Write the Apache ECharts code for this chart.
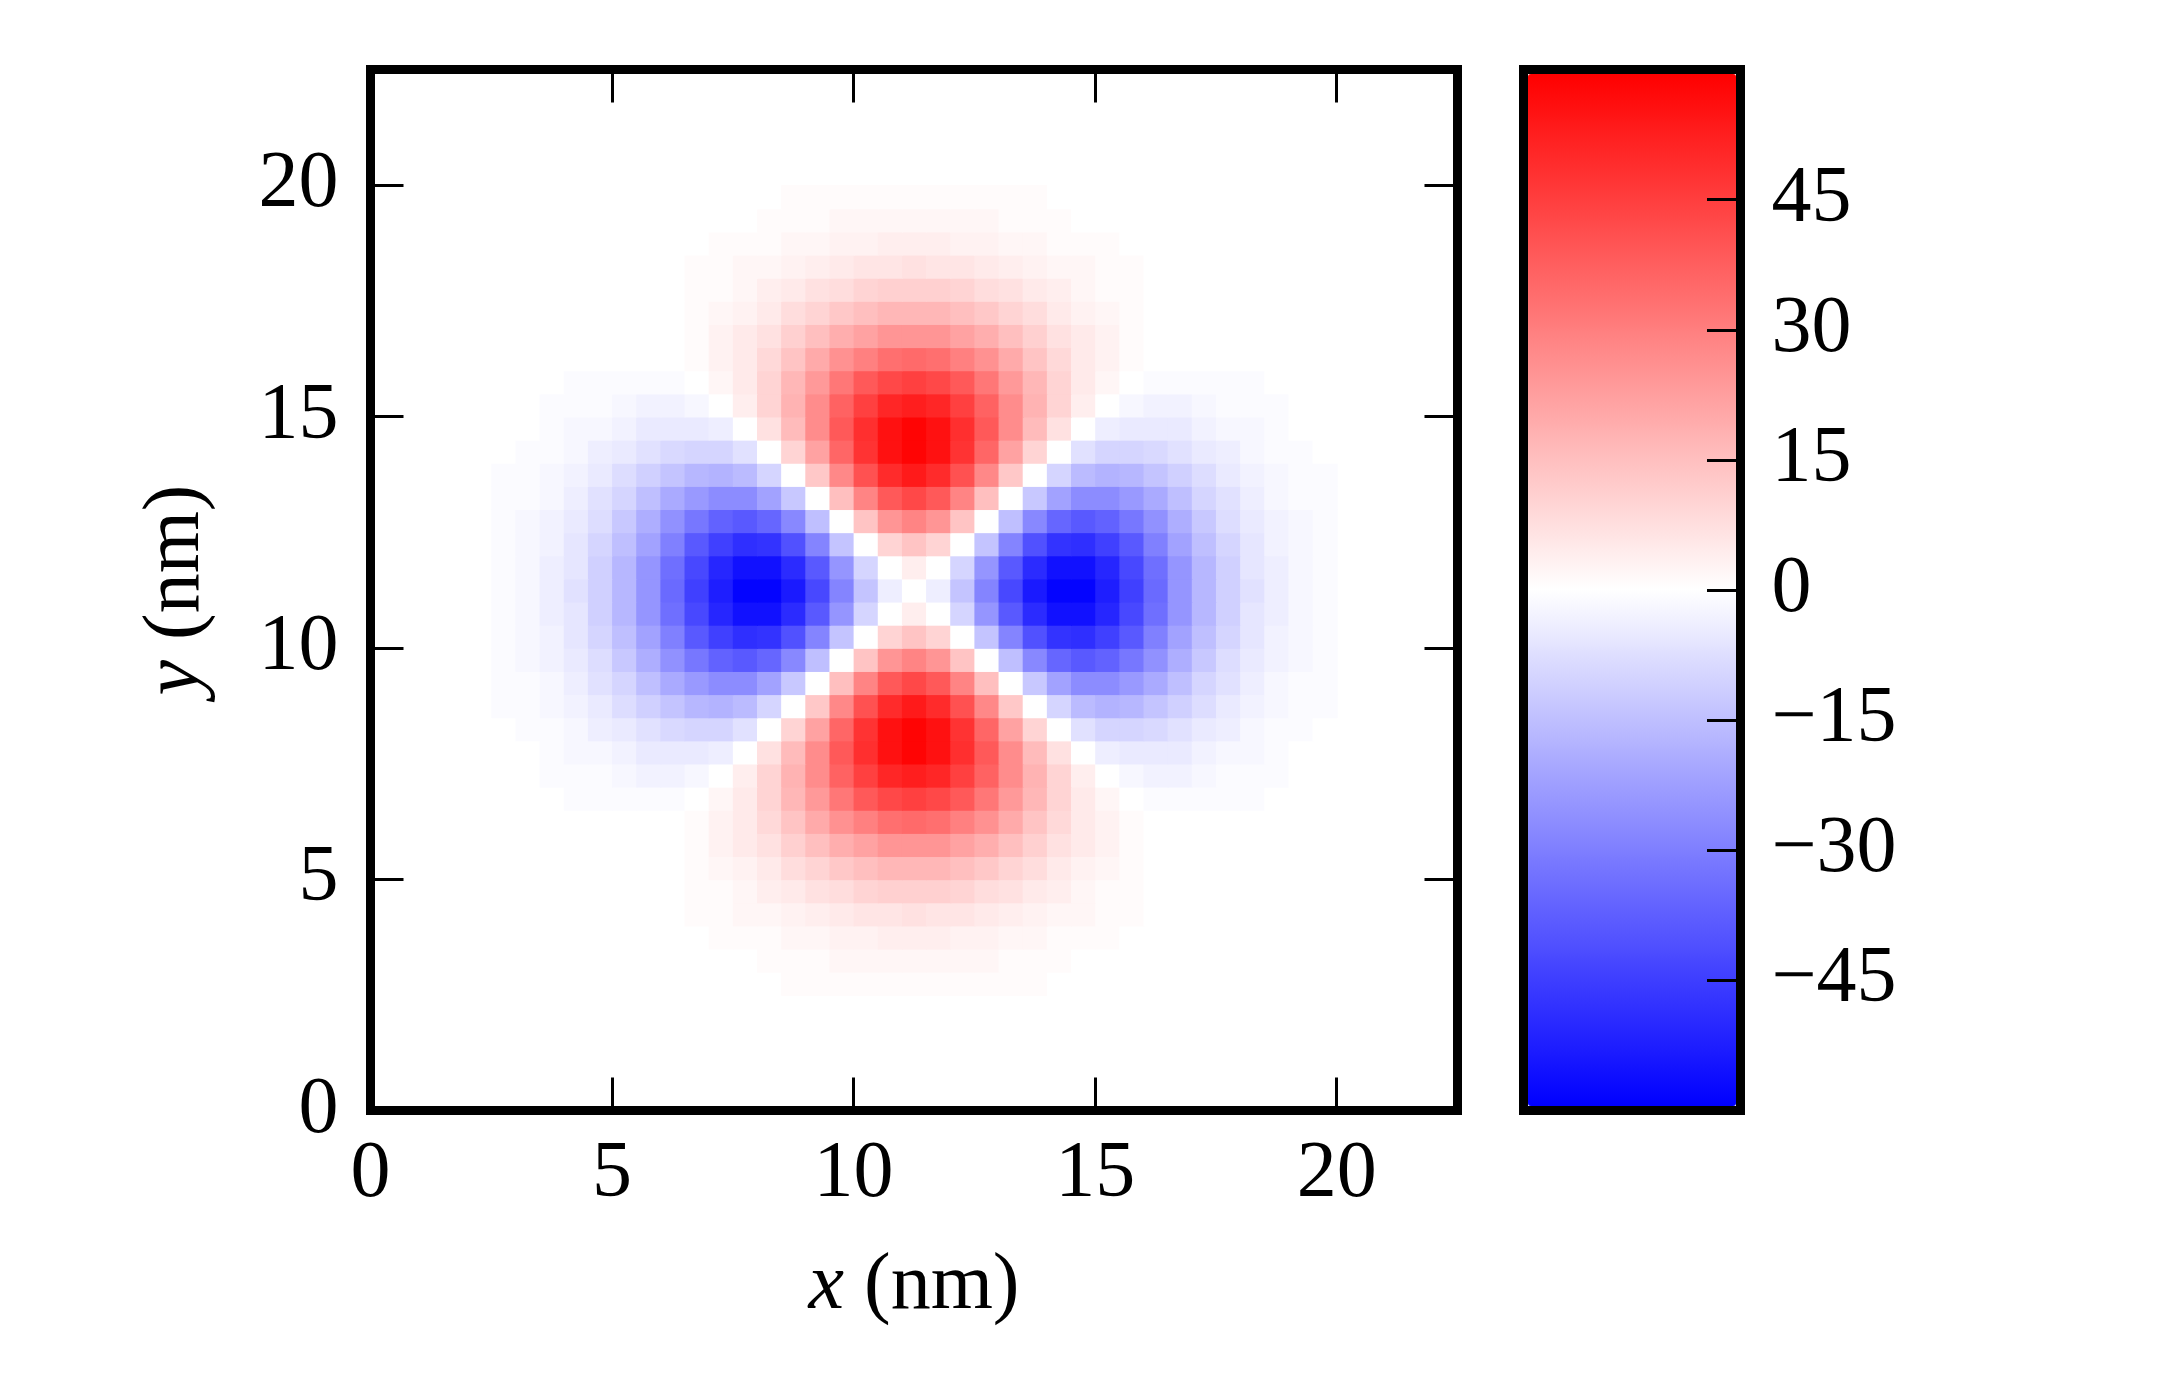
<!DOCTYPE html>
<html>
<head>
<meta charset="utf-8">
<script src="https://cdn.jsdelivr.net/npm/echarts@6/dist/echarts.min.js"></script>
<style>
html,body{margin:0;padding:0;background:#ffffff;}
#chart{width:2175px;height:1387px;}
</style>
</head>
<body>
<div id="chart"></div>
<script>
// ---------------- data ----------------
// cell centres in nm (0.5 nm cells); outside this block the field is ~0 (white)
const xCenters = [2.75,3.25,3.75,4.25,4.75,5.25,5.75,6.25,6.75,7.25,7.75,8.25,8.75,9.25,9.75,10.25,10.75,11.25,11.75,12.25,12.75,13.25,13.75,14.25,14.75,15.25,15.75,16.25,16.75,17.25,17.75,18.25,18.75,19.25,19.75];
const yCenters = [2.75,3.25,3.75,4.25,4.75,5.25,5.75,6.25,6.75,7.25,7.75,8.25,8.75,9.25,9.75,10.25,10.75,11.25,11.75,12.25,12.75,13.25,13.75,14.25,14.75,15.25,15.75,16.25,16.75,17.25,17.75,18.25,18.75,19.25,19.75];
// field values, one row per yCenters entry (bottom row first), one column per xCenters entry
const fieldRows = [
 [0,0,0,0,0,0,0,0,0,0,0,0,1,1,1,1,1,1,1,1,1,1,1,0,0,0,0,0,0,0,0,0,0,0,0],
 [0,0,0,0,0,0,0,0,0,0,0,1,1,1,2,2,2,2,2,2,2,1,1,1,0,0,0,0,0,0,0,0,0,0,0],
 [0,0,0,0,0,0,0,0,0,1,1,1,2,2,3,3,4,4,4,3,3,2,2,1,1,1,0,0,0,0,0,0,0,0,0],
 [0,0,0,0,0,0,0,0,1,1,2,2,3,4,5,6,6,7,6,6,5,4,3,2,2,1,1,0,0,0,0,0,0,0,0],
 [0,0,0,0,0,0,0,0,1,1,2,4,5,7,8,10,11,11,11,10,8,7,5,4,2,1,1,0,0,0,0,0,0,0,0],
 [0,0,0,0,0,0,0,0,1,2,3,5,8,10,13,15,17,17,17,15,13,10,8,5,3,2,1,0,0,0,0,0,0,0,0],
 [0,0,0,0,0,0,0,0,1,3,5,7,11,15,19,22,25,25,25,22,19,15,11,7,5,3,1,0,0,0,0,0,0,0,0],
 [0,0,0,0,0,0,0,0,1,3,5,9,14,20,26,30,34,35,34,30,26,20,14,9,5,3,1,0,0,0,0,0,0,0,0],
 [0,0,0,-1,-1,-1,-1,-1,0,2,5,10,17,24,32,39,43,45,43,39,32,24,17,10,5,2,0,-1,-1,-1,-1,-1,0,0,0],
 [0,0,-1,-1,-1,-2,-3,-3,-2,0,4,10,18,27,37,45,51,53,51,45,37,27,18,10,4,0,-2,-3,-3,-2,-1,-1,-1,0,0],
 [0,0,-1,-2,-2,-3,-5,-5,-5,-4,0,7,16,27,39,49,56,59,56,49,39,27,16,7,0,-4,-5,-5,-5,-3,-2,-2,-1,0,0],
 [0,-1,-1,-2,-4,-5,-7,-9,-10,-10,-7,0,10,22,36,48,56,59,56,48,36,22,10,0,-7,-10,-10,-9,-7,-5,-4,-2,-1,-1,0],
 [-1,-1,-2,-3,-5,-8,-11,-14,-17,-18,-16,-10,0,13,28,41,50,54,50,41,28,13,0,-10,-16,-18,-17,-14,-11,-8,-5,-3,-2,-1,-1],
 [-1,-1,-2,-4,-7,-10,-15,-20,-24,-27,-27,-22,-13,0,15,29,39,43,39,29,15,0,-13,-22,-27,-27,-24,-20,-15,-10,-7,-4,-2,-1,-1],
 [-1,-2,-3,-5,-8,-13,-19,-26,-32,-37,-39,-36,-28,-15,0,14,25,29,25,14,0,-15,-28,-36,-39,-37,-32,-26,-19,-13,-8,-5,-3,-2,-1],
 [-1,-2,-3,-6,-10,-15,-22,-30,-39,-45,-49,-48,-41,-29,-14,0,10,14,10,0,-14,-29,-41,-48,-49,-45,-39,-30,-22,-15,-10,-6,-3,-2,-1],
 [-1,-2,-4,-6,-11,-17,-25,-34,-43,-51,-56,-56,-50,-39,-25,-10,0,4,0,-10,-25,-39,-50,-56,-56,-51,-43,-34,-25,-17,-11,-6,-4,-2,-1],
 [-1,-2,-4,-7,-11,-17,-25,-35,-45,-53,-59,-59,-54,-43,-29,-14,-4,0,-4,-14,-29,-43,-54,-59,-59,-53,-45,-35,-25,-17,-11,-7,-4,-2,-1],
 [-1,-2,-4,-6,-11,-17,-25,-34,-43,-51,-56,-56,-50,-39,-25,-10,0,4,0,-10,-25,-39,-50,-56,-56,-51,-43,-34,-25,-17,-11,-6,-4,-2,-1],
 [-1,-2,-3,-6,-10,-15,-22,-30,-39,-45,-49,-48,-41,-29,-14,0,10,14,10,0,-14,-29,-41,-48,-49,-45,-39,-30,-22,-15,-10,-6,-3,-2,-1],
 [-1,-2,-3,-5,-8,-13,-19,-26,-32,-37,-39,-36,-28,-15,0,14,25,29,25,14,0,-15,-28,-36,-39,-37,-32,-26,-19,-13,-8,-5,-3,-2,-1],
 [-1,-1,-2,-4,-7,-10,-15,-20,-24,-27,-27,-22,-13,0,15,29,39,43,39,29,15,0,-13,-22,-27,-27,-24,-20,-15,-10,-7,-4,-2,-1,-1],
 [-1,-1,-2,-3,-5,-8,-11,-14,-17,-18,-16,-10,0,13,28,41,50,54,50,41,28,13,0,-10,-16,-18,-17,-14,-11,-8,-5,-3,-2,-1,-1],
 [0,-1,-1,-2,-4,-5,-7,-9,-10,-10,-7,0,10,22,36,48,56,59,56,48,36,22,10,0,-7,-10,-10,-9,-7,-5,-4,-2,-1,-1,0],
 [0,0,-1,-2,-2,-3,-5,-5,-5,-4,0,7,16,27,39,49,56,59,56,49,39,27,16,7,0,-4,-5,-5,-5,-3,-2,-2,-1,0,0],
 [0,0,-1,-1,-1,-2,-3,-3,-2,0,4,10,18,27,37,45,51,53,51,45,37,27,18,10,4,0,-2,-3,-3,-2,-1,-1,-1,0,0],
 [0,0,0,-1,-1,-1,-1,-1,0,2,5,10,17,24,32,39,43,45,43,39,32,24,17,10,5,2,0,-1,-1,-1,-1,-1,0,0,0],
 [0,0,0,0,0,0,0,0,1,3,5,9,14,20,26,30,34,35,34,30,26,20,14,9,5,3,1,0,0,0,0,0,0,0,0],
 [0,0,0,0,0,0,0,0,1,3,5,7,11,15,19,22,25,25,25,22,19,15,11,7,5,3,1,0,0,0,0,0,0,0,0],
 [0,0,0,0,0,0,0,0,1,2,3,5,8,10,13,15,17,17,17,15,13,10,8,5,3,2,1,0,0,0,0,0,0,0,0],
 [0,0,0,0,0,0,0,0,1,1,2,4,5,7,8,10,11,11,11,10,8,7,5,4,2,1,1,0,0,0,0,0,0,0,0],
 [0,0,0,0,0,0,0,0,1,1,2,2,3,4,5,6,6,7,6,6,5,4,3,2,2,1,1,0,0,0,0,0,0,0,0],
 [0,0,0,0,0,0,0,0,0,1,1,1,2,2,3,3,4,4,4,3,3,2,2,1,1,1,0,0,0,0,0,0,0,0,0],
 [0,0,0,0,0,0,0,0,0,0,0,1,1,1,2,2,2,2,2,2,2,1,1,1,0,0,0,0,0,0,0,0,0,0,0],
 [0,0,0,0,0,0,0,0,0,0,0,0,1,1,1,1,1,1,1,1,1,1,1,0,0,0,0,0,0,0,0,0,0,0,0]
];
const axisTickValues = [0, 5, 10, 15, 20];
const colorbarTickValues = [-45, -30, -15, 0, 15, 30, 45];
const axisRange = [0, 22.5];
const colorRange = [-60, 60];
const xTitleVar = 'x', yTitleVar = 'y', unitText = '(nm)';

// ---------------- styles / layout ----------------
const CELL = 0.5;
const FONT = "'Liberation Serif', 'DejaVu Serif', serif";
const FS = 80;
const BLACK = '#000000';

const cells = [];
for (let r = 0; r < yCenters.length; r++) {
  for (let c = 0; c < xCenters.length; c++) {
    cells.push([xCenters[c], yCenters[r], fieldRows[r][c]]);
  }
}

function fmtAxis(v) { return axisTickValues.indexOf(v) >= 0 ? String(v) : ''; }
function fmtBar(v) {
  if (colorbarTickValues.indexOf(v) < 0) return '';
  return v < 0 ? '\u2212' + Math.abs(v) : String(v);
}
const tickStyle = { color: BLACK, width: 3 };
const labelStyle = { fontFamily: FONT, fontSize: FS, color: BLACK };
const nameStyle = {
  fontFamily: FONT, fontSize: FS, color: BLACK,
  rich: { i: { fontFamily: FONT, fontSize: FS, fontStyle: 'italic', color: BLACK } }
};

function mainAxis(pos, withLabels, extra) {
  return Object.assign({
    gridIndex: 0, type: 'value', position: pos,
    min: axisRange[0], max: axisRange[1], interval: 5,
    z: 10,
    axisLine: { show: false, onZero: false },
    axisTick: { show: true, inside: true, length: 33, lineStyle: tickStyle },
    axisLabel: Object.assign({ show: withLabels, formatter: fmtAxis, showMaxLabel: false }, labelStyle),
    splitLine: { show: false }
  }, extra || {});
}

const option = {
  animation: false,
  backgroundColor: '#ffffff',
  grid: [
    { left: 370.5, top: 69.5, width: 1087, height: 1041, show: true,
      borderColor: BLACK, borderWidth: 9, backgroundColor: 'transparent', containLabel: false },
    { left: 1523.5, top: 69.5, width: 217, height: 1041, show: true,
      borderColor: BLACK, borderWidth: 9, backgroundColor: 'transparent', containLabel: false, z: 6 }
  ],
  xAxis: [
    mainAxis('bottom', true, {
      axisLabel: Object.assign({ show: true, formatter: fmtAxis, showMaxLabel: false, margin: 24 }, labelStyle),
      name: '{i|' + xTitleVar + '} ' + unitText, nameLocation: 'middle', nameGap: 136, nameTextStyle: nameStyle
    }),
    mainAxis('top', false),
    { gridIndex: 1, type: 'value', show: false, min: 0, max: 1, axisLine: { onZero: false } }
  ],
  yAxis: [
    mainAxis('left', true, {
      axisLabel: Object.assign({ show: true, formatter: fmtAxis, showMaxLabel: false, margin: 32 }, labelStyle),
      name: '{i|' + yTitleVar + '} ' + unitText, nameLocation: 'middle', nameGap: 154, nameTextStyle: nameStyle
    }),
    mainAxis('right', false),
    { gridIndex: 1, type: 'value', position: 'right', min: colorRange[0], max: colorRange[1], interval: 15, z: 10,
      axisLine: { show: false, onZero: false },
      axisTick: { show: true, inside: true, length: 33.5, lineStyle: tickStyle },
      axisLabel: Object.assign({ show: true, formatter: fmtBar, margin: 31 }, labelStyle),
      splitLine: { show: false } }
  ],
  visualMap: {
    type: 'continuous', min: colorRange[0], max: colorRange[1],
    seriesIndex: 0, dimension: 2, calculable: false, hoverLink: false,
    orient: 'vertical', left: 1528, top: 74, itemWidth: 208, itemHeight: 1032,
    padding: 0, z: 2,
    inRange: { color: ['#0000ff', '#ffffff', '#ff0000'] }
  },
  series: [{
    type: 'custom', xAxisIndex: 0, yAxisIndex: 0, silent: true, z: 2,
    data: cells,
    encode: { x: 0, y: 1 },
    renderItem: function (params, api) {
      const x = api.value(0), y = api.value(1);
      const a = api.coord([x - CELL / 2, y + CELL / 2]);
      const b = api.coord([x + CELL / 2, y - CELL / 2]);
      return { type: 'rect',
        shape: { x: a[0], y: a[1], width: b[0] - a[0] + 1, height: b[1] - a[1] + 1 },
        style: { fill: api.visual('color'), stroke: null } };
    }
  }]
};
const chart = echarts.init(document.getElementById('chart'), null, { renderer: 'canvas' });
chart.setOption(option);
</script>
</body>
</html>
